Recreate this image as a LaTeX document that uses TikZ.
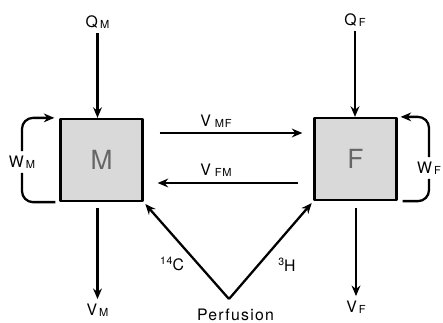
\documentclass[tikz,border=0pt]{standalone}
\usepackage{fontspec}
\setmainfont{TeX Gyre Heros}[LetterSpace=8]
\usetikzlibrary{arrows.meta}
\newcommand\sub[2]{#1\kern1.2pt\raisebox{-0.12ex}{\fontsize{6.3}{6}\selectfont #2}}
\newcommand\iso[2]{\raisebox{0.75ex}{\fontsize{6}{6}\selectfont #1}#2}
\begin{document}
\begin{tikzpicture}[x=0.02cm,y=-0.02cm,line join=round,line width=1.3pt,>={Stealth[length=6pt,width=5pt]}]
	\tikzset{every node/.style={font=\fontsize{9}{10}\selectfont},
		box/.style={draw,line width=1.3pt,fill=black!15,minimum size=1.64cm,inner sep=0pt,
			text=black!60,font=\fontsize{15}{15}\selectfont},
		lab/.style={inner sep=2pt},
		flow/.style={->}}
	\useasboundingbox (0,0) rectangle (443,322);
	% compartments
	\node[box] (M) at (101.5,160) {M};
	\node[box] (F) at (355.5,159) {F};
	% labels
	\node[lab] (QM) at (97.5,22) {\sub{Q}{M}};
	\node[lab] (VM) at (97.5,310) {\sub{V}{M}};
	\node[lab] (QF) at (355,20) {\sub{Q}{F}};
	\node[lab] (VF) at (356,307) {\sub{V}{F}};
	\node[lab] (WM) at (22,162) {\sub{W}{M}};
	\node[lab] (WF) at (429,168) {\sub{W}{F}};
	\node[lab] (VMF) at (216,121) {\sub{V\kern1pt}{MF}};
	\node[lab] (VFM) at (216,170) {\sub{V\kern1pt}{FM}};
	\node[lab] (C) at (172,264) {\iso{14}{C}};
	\node[lab] (H) at (287,265) {\iso{3}{H}};
	\node[lab] (P) at (235.5,315) {Perfusion};
	\coordinate (apex) at (229,299);
	% flows in and out
	\draw[flow] (QM) -- (QM |- M.north);
	\draw[flow,shorten <=0.12cm] (VM |- M.south) -- (VM);
	\draw[flow] (QF) -- (QF |- F.north);
	\draw[flow,shorten <=0.14cm] (VF |- F.south) -- (VF);
	\draw[flow,shorten <=0.32cm,shorten >=0.22cm] (M.east |- 0,133) -- (F.west |- 0,133);
	\draw[flow,shorten <=0.3cm,shorten >=0.28cm] (F.west |- 0,183) -- (M.east |- 0,183);
	% recycling
	\draw[rounded corners=0.22cm] ([xshift=-0.08cm]M.south west) -| (WM.south);
	\draw[flow,rounded corners=0.22cm] (WM.north) |- ([xshift=-0.1cm]M.north west);
	\draw[rounded corners=0.22cm] ([xshift=0.1cm]F.south east) -| (WF.south);
	\draw[flow,rounded corners=0.22cm] (WF.north) |- ([xshift=0.06cm]F.north east);
	% perfusion
	\draw[flow,shorten >=0.05cm] (apex) -- (M.south east);
	\draw[flow,shorten >=0.05cm] (apex) -- (F.south west);
\end{tikzpicture}
\end{document}
